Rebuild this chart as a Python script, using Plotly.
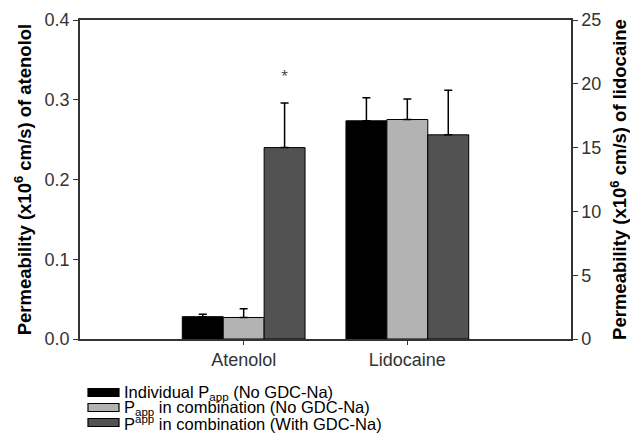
import plotly.graph_objects as go

categories = ["Atenolol", "Lidocaine"]
series_names = [
    "Individual P<sub>app</sub> (No GDC-Na)",
    "P<sub>app</sub> in combination (No GDC-Na)",
    "P<sup>app</sup> in combination (With GDC-Na)",
]
colors = ["#000000", "#b3b3b3", "#525252"]

# Atenolol values (left axis)
atenolol_mean = [0.028, 0.027, 0.240]
atenolol_err = [0.003, 0.011, 0.056]
# Lidocaine values (right axis)
lidocaine_mean = [17.1, 17.2, 16.0]
lidocaine_err = [1.8, 1.6, 3.5]

left_ticks = [0.0, 0.1, 0.2, 0.3, 0.4]
right_ticks = [0, 5, 10, 15, 20, 25]

# page body has an 8px margin, so the figure is drawn 8px in from the top-left
OFF = 8
W, H = 638 - OFF, 435 - OFF
ML, MR, MT, MB = 80 - OFF, 67, 20 - OFF, 96
PW, PH = W - ML - MR, H - MT - MB

def px_x(p):
    return (p - OFF - ML) / PW

def px_y(p):
    return (H - MB - (p - OFF)) / PH

bar_w = 0.25
offsets = [-0.375, -0.125, 0.125]

fig = go.Figure()
for i in range(3):
    fig.add_trace(go.Bar(
        x=[categories[0]], y=[atenolol_mean[i]], name=series_names[i],
        marker=dict(color=colors[i], line=dict(color="black", width=1)),
        width=bar_w, offset=offsets[i], showlegend=False,
        error_y=dict(type="data", array=[atenolol_err[i]], arrayminus=[0], symmetric=False,
                     color="black", thickness=1.5, width=4),
        yaxis="y",
    ))
for i in range(3):
    fig.add_trace(go.Bar(
        x=[categories[1]], y=[lidocaine_mean[i]], name=series_names[i],
        marker=dict(color=colors[i], line=dict(color="black", width=1)),
        width=bar_w, offset=offsets[i], showlegend=False,
        error_y=dict(type="data", array=[lidocaine_err[i]], arrayminus=[0], symmetric=False,
                     color="black", thickness=1.5, width=4),
        yaxis="y2",
    ))

fig.add_annotation(x=0 + offsets[2] + bar_w / 2, y=atenolol_mean[2] + atenolol_err[2] + 0.035,
                   text="*", showarrow=False, font=dict(size=13, color="#333"), yref="y")

# manual legend (wide rectangular keys like the reference)
font_family = "Liberation Sans, Arial, sans-serif"
row_y = [392.5, 407.5, 422.5]
for i in range(3):
    fig.add_shape(type="rect", xref="paper", yref="paper",
                  x0=px_x(88), x1=px_x(119), y0=px_y(row_y[i] - 4), y1=px_y(row_y[i] + 4),
                  fillcolor=colors[i], line=dict(color="black", width=1.2))
    fig.add_annotation(xref="paper", yref="paper", x=px_x(122), y=px_y(row_y[i]),
                       xanchor="left", yanchor="middle", text=series_names[i], showarrow=False,
                       font=dict(family=font_family, size=16.5, color="black"))

axis_font = dict(family=font_family, size=18, color="#333")
title_font = dict(family=font_family, size=18.5, color="black")

fig.update_layout(
    width=W, height=H,
    margin=dict(l=ML, r=MR, t=MT, b=MB, autoexpand=False),
    plot_bgcolor="white", paper_bgcolor="white",
    barmode="overlay",
    showlegend=False,
    xaxis=dict(type="category", range=[-1, 2], showline=True, linecolor="#333", linewidth=1.5,
               mirror=True, ticks="outside", ticklen=4, tickcolor="#333",
               tickfont=axis_font, showgrid=False, zeroline=False),
    yaxis=dict(range=[0, 0.4], tickvals=left_ticks, tickformat=".1f",
               showline=True, linecolor="#333", linewidth=1.5, ticks="outside", ticklen=5,
               tickcolor="#333", tickfont=axis_font, showgrid=False, zeroline=False,
               title=dict(text="<b>Permeability (x10<sup>6</sup> cm/s) of atenolol</b>",
                          font=title_font, standoff=8)),
    yaxis2=dict(range=[0, 25], tickvals=right_ticks, overlaying="y", side="right",
                showline=True, linecolor="#333", linewidth=1.5, ticks="outside", ticklen=5,
                tickcolor="#333", tickfont=axis_font, showgrid=False, zeroline=False,
                title=dict(text="<b>Permeability (x10<sup>6</sup> cm/s) of lidocaine</b>",
                           font=title_font, standoff=13)),
)

fig.write_html("out.html")
